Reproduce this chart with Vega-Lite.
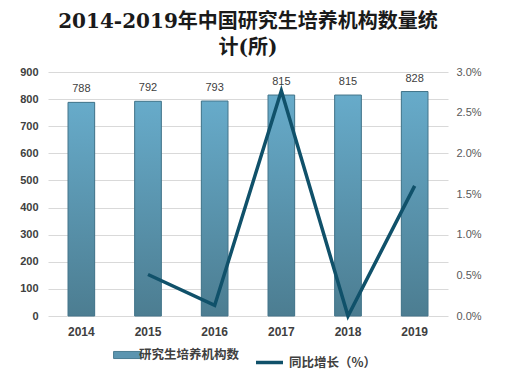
{
  "$schema": "https://vega.github.io/schema/vega-lite/v6.json",
  "width": 400,
  "height": 244,
  "padding": {"left": 19, "top": 12, "right": 10, "bottom": 5},
  "background": "white",
  "title": {
    "text": ["2014-2019年中国研究生培养机构数量统", "计(所)"],
    "font": "DejaVu Serif, Noto Sans CJK SC",
    "fontSize": 20,
    "fontWeight": "bold",
    "color": "#1a1a1a",
    "lineHeight": 26,
    "anchor": "middle",
    "offset": 8
  },
  "data": {
    "values": [
      {"year": "2014", "count": 788, "growth": null},
      {"year": "2015", "count": 792, "growth": 0.0051},
      {"year": "2016", "count": 793, "growth": 0.0013},
      {"year": "2017", "count": 815, "growth": 0.0277},
      {"year": "2018", "count": 815, "growth": 0.0},
      {"year": "2019", "count": 828, "growth": 0.016}
    ]
  },
  "encoding": {
    "x": {
      "field": "year",
      "type": "nominal",
      "scale": {"paddingInner": 0.6, "paddingOuter": 0.3},
      "axis": {
        "title": null,
        "labelAngle": 0,
        "labelFont": "Liberation Sans",
        "labelFontSize": 12,
        "labelFontWeight": "bold",
        "labelColor": "#404040",
        "labelPadding": 10,
        "ticks": false,
        "domain": false
      }
    }
  },
  "layer": [
    {
      "encoding": {
        "y": {
          "field": "count",
          "type": "quantitative",
          "scale": {"domain": [0, 900]},
          "axis": {
            "title": null,
            "values": [0, 100, 200, 300, 400, 500, 600, 700, 800, 900],
            "labelFont": "Liberation Sans",
            "labelFontSize": 11,
            "labelFontWeight": "bold",
            "labelColor": "#404040",
            "labelPadding": 10,
            "ticks": false,
            "domain": false,
            "gridColor": "#d9d9d9",
            "gridWidth": 1
          }
        }
      },
      "layer": [
        {
          "mark": {"type": "bar", "fill": "#5b95b0"},
          "encoding": {
            "fill": {
              "datum": "研究生培养机构数",
              "type": "nominal",
              "scale": {"range": ["#5b95b0"]},
              "legend": {
                "title": null,
                "orient": "bottom",
                "offset": 10,
                "symbolType": "M-1.9,-0.5H1.9V0.5H-1.9Z",
                "symbolSize": 200,
                "symbolStrokeColor": "#4a7c92",
                "symbolStrokeWidth": 1,
                "labelFont": "Noto Sans CJK SC",
                "labelFontSize": 12.5,
                "labelFontWeight": "bold",
                "labelColor": "#404040"
              }
            }
          }
        },
        {
          "mark": {
            "type": "bar",
            "stroke": "#44758a",
            "strokeWidth": 1,
            "color": {
              "gradient": "linear",
              "x1": 0, "y1": 0, "x2": 0, "y2": 1,
              "stops": [
                {"offset": 0, "color": "#67abca"},
                {"offset": 1, "color": "#4c7d91"}
              ]
            }
          }
        },
        {
          "mark": {"type": "text", "dy": -13, "font": "Liberation Sans", "fontSize": 11, "color": "#404040"},
          "encoding": {
            "text": {"field": "count", "type": "quantitative"}
          }
        }
      ]
    },
    {
      "mark": {"type": "line", "strokeWidth": 3.5, "strokeCap": "butt"},
      "encoding": {
        "y": {
          "field": "growth",
          "type": "quantitative",
          "scale": {"domain": [0, 0.03]},
          "axis": {
            "title": null,
            "orient": "right",
            "format": ".1%",
            "values": [0, 0.005, 0.01, 0.015, 0.02, 0.025, 0.03],
            "labelFont": "Liberation Sans",
            "labelFontSize": 11,
            "labelColor": "#595959",
            "labelPadding": 8,
            "ticks": false,
            "domain": false,
            "grid": false
          }
        },
        "stroke": {
          "datum": "同比增长（%）",
          "type": "nominal",
          "scale": {"range": ["#10516a"]},
          "legend": {
            "title": null,
            "orient": "bottom",
            "offset": 10,
            "symbolType": "stroke",
            "symbolSize": 729,
            "symbolStrokeWidth": 3.5,
            "labelFont": "Noto Sans CJK SC",
            "labelFontSize": 12.5,
            "labelFontWeight": "bold",
            "labelColor": "#404040"
          }
        }
      }
    }
  ],
  "resolve": {"scale": {"y": "independent"}},
  "config": {
    "view": {"stroke": null},
    "legend": {
      "layout": {"bottom": {"anchor": "middle", "direction": "horizontal", "margin": 14}}
    }
  }
}
